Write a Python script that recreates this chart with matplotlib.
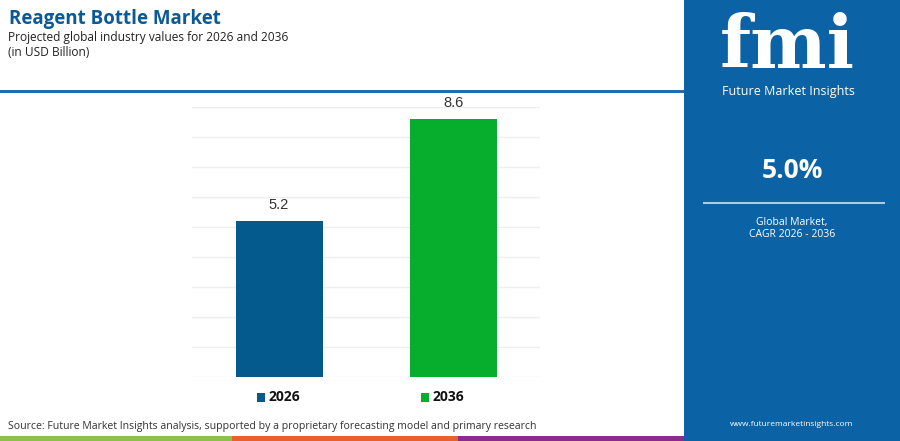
import matplotlib
matplotlib.use("Agg")
import matplotlib.pyplot as plt
from matplotlib.patches import Rectangle
from matplotlib.lines import Line2D

# data
years = ["2026", "2036"]
values = [5.2, 8.6]
bar_colors = ["#045A8D", "#07AD2D"]
cagr_text = "5.0%"

W, H = 900, 441
fig = plt.figure(figsize=(W / 100, H / 100), dpi=100)
fig.patch.set_facecolor("white")

def px(x, y):
    # pixel coords (top-left origin) -> figure fraction
    return x / W, 1 - y / H

FONT = "Open Sans"
PANEL = "#0B62A4"

# header texts
fig.text(*px(9, 19), "Reagent Bottle Market", fontsize=13.5, fontweight="bold",
         color="#0B5A94", family=FONT, va="center", ha="left")
fig.text(*px(8, 37), "Projected global industry values for 2026 and 2036", fontsize=8.6,
         color="#222222", family=FONT, va="center", ha="left")
fig.text(*px(8, 52), "(in USD Billion)", fontsize=8.6,
         color="#222222", family=FONT, va="center", ha="left")

# blue separator under header
fig.add_artist(Rectangle(px(0, 93), 684 / W, 3 / H, transform=fig.transFigure,
                         color="#1F6DAF", lw=0))

# bottom color strip
for x0, x1, c in [(0, 232, "#8CC04A"), (232, 458, "#E8602C"), (458, 684, "#8B2C8A")]:
    fig.add_artist(Rectangle(px(x0, 441), (x1 - x0) / W, 5 / H, transform=fig.transFigure,
                             color=c, lw=0))

# right panel
fig.add_artist(Rectangle(px(684, 441), 216 / W, 1, transform=fig.transFigure,
                         color=PANEL, lw=0))
fig.text(*px(787, 47), "fmi", fontsize=52, fontweight="bold", color="white",
         family="DejaVu Serif", va="center", ha="center")
fig.text(*px(788, 92), "Future Market Insights", fontsize=9, color="white",
         family=FONT, va="center", ha="center")
fig.text(*px(792, 171), cagr_text, fontsize=19, fontweight="bold", color="white",
         family=FONT, va="center", ha="center")
fig.add_artist(Line2D([704 / W, 884 / W], [1 - 203 / H] * 2, transform=fig.transFigure,
                      color="#A9CBE6", lw=1.5))
fig.text(*px(792, 222), "Global Market,", fontsize=7.5, color="white",
         family=FONT, va="center", ha="center")
fig.text(*px(792, 234), "CAGR 2026 - 2036", fontsize=7.5, color="white",
         family=FONT, va="center", ha="center")
fig.text(*px(792, 424), "www.futuremarketinsights.com", fontsize=6, color="white",
         family=FONT, va="center", ha="center")

# chart
ax = fig.add_axes([192 / W, 64 / H, 348 / W, 270 / H])
x = range(len(years))
ax.bar(x, values, width=0.5, color=bar_colors, zorder=3)
ax.set_xlim(-0.5, 1.5)
ax.set_ylim(0, 9)
ax.set_yticks(range(0, 10))
ax.yaxis.grid(True, color="#EEEEEE", lw=1, zorder=0)
ax.tick_params(left=False, bottom=False, labelleft=False, labelbottom=False)
for s in ax.spines.values():
    s.set_visible(False)
for xi, v in zip(x, values):
    ax.text(xi, v + 0.3, f"{v:.1f}", ha="center", va="bottom", fontsize=10.5,
            color="#333333", family="Liberation Sans")

# legend
for (lx, label, c) in [(257, years[0], bar_colors[0]), (421, years[1], bar_colors[1])]:
    fig.add_artist(Rectangle(px(lx, 402), 8 / W, 9 / H, transform=fig.transFigure,
                             color=c, lw=0))
    fig.text(*px(lx + 12, 397), label, fontsize=10, fontweight="bold", color="#111111",
             family=FONT, va="center", ha="left")

fig.text(*px(8, 426), "Source: Future Market Insights analysis, supported by a proprietary "
         "forecasting model and primary research", fontsize=7.6, color="#333333",
         family=FONT, va="center", ha="left")

fig.savefig("out.png", dpi=100, facecolor="white")
